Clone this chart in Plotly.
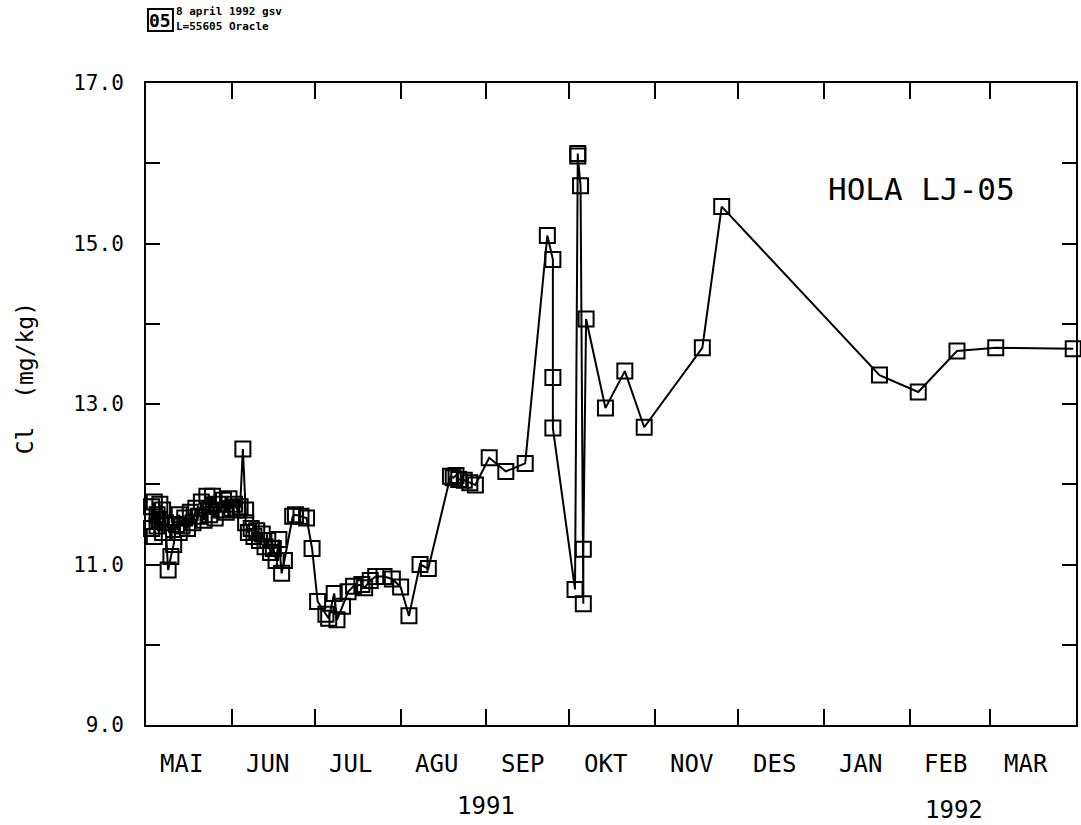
import plotly.graph_objects as go
import pandas as pd

dates = [
    "1991-05-03", "1991-05-03", "1991-05-04", "1991-05-04", "1991-05-05", "1991-05-05",
    "1991-05-06", "1991-05-06", "1991-05-07", "1991-05-07", "1991-05-08", "1991-05-09",
    "1991-05-10", "1991-05-11", "1991-05-12", "1991-05-13", "1991-05-13", "1991-05-14",
    "1991-05-15", "1991-05-16", "1991-05-17", "1991-05-18", "1991-05-19", "1991-05-20",
    "1991-05-21", "1991-05-22", "1991-05-23", "1991-05-24", "1991-05-25", "1991-05-26",
    "1991-05-27", "1991-05-28", "1991-05-29", "1991-05-30", "1991-05-31", "1991-06-01",
    "1991-06-02", "1991-06-03", "1991-06-04", "1991-06-05", "1991-06-06", "1991-06-06",
    "1991-06-07", "1991-06-08", "1991-06-09", "1991-06-10", "1991-06-11", "1991-06-12",
    "1991-06-13", "1991-06-14", "1991-06-15", "1991-06-16", "1991-06-17", "1991-06-18",
    "1991-06-19", "1991-06-20", "1991-06-23", "1991-06-24", "1991-06-26", "1991-06-28",
    "1991-06-30", "1991-07-02", "1991-07-05", "1991-07-06", "1991-07-08", "1991-07-09",
    "1991-07-11", "1991-07-13", "1991-07-15", "1991-07-18", "1991-07-19", "1991-07-21",
    "1991-07-23", "1991-07-26", "1991-07-29", "1991-08-01", "1991-08-04", "1991-08-08",
    "1991-08-11", "1991-08-19", "1991-08-20", "1991-08-21", "1991-08-22", "1991-08-24",
    "1991-08-26", "1991-08-28", "1991-09-02", "1991-09-08", "1991-09-15", "1991-09-23",
    "1991-09-25", "1991-09-25", "1991-09-25", "1991-10-03", "1991-10-04", "1991-10-04",
    "1991-10-05", "1991-10-06", "1991-10-06", "1991-10-07", "1991-10-14", "1991-10-21",
    "1991-10-28", "1991-11-18", "1991-11-25", "1992-01-21", "1992-02-04", "1992-02-18",
    "1992-03-03", "1992-03-31",
]
cl_values = [
    11.72, 11.45, 11.78, 11.35, 11.62, 11.48,
    11.75, 11.55, 11.40, 11.68, 11.52, 10.93,
    11.10, 11.25, 11.50, 11.40, 11.62, 11.48,
    11.58, 11.45, 11.65, 11.52, 11.70, 11.60,
    11.78, 11.55, 11.85, 11.62, 11.85, 11.58,
    11.75, 11.68, 11.80, 11.65, 11.82, 11.70,
    11.75, 11.68, 11.72, 12.44, 11.68, 11.52,
    11.40, 11.45, 11.35, 11.42, 11.30, 11.38,
    11.22, 11.30, 11.15, 11.20, 11.05, 11.31,
    10.89, 11.05, 11.60, 11.62, 11.60, 11.58,
    11.20, 10.54, 10.38, 10.33, 10.64, 10.31,
    10.48, 10.66, 10.73, 10.75, 10.71, 10.80,
    10.85, 10.85, 10.82, 10.72, 10.36, 11.00,
    10.95, 12.10, 12.08, 12.11, 12.06, 12.05,
    12.02, 11.99, 12.33, 12.16, 12.26, 15.10,
    14.80, 13.33, 12.70, 10.69, 16.12, 16.09,
    15.72, 10.51, 11.19, 14.06, 12.95, 13.41,
    12.71, 13.70, 15.46, 13.36, 13.15, 13.66,
    13.70, 13.69,
]

month_names = ["MAI", "JUN", "JUL", "AGU", "SEP", "OKT", "NOV", "DES", "JAN", "FEB", "MAR"]
year_labels = ["1991", "1992"]
y_ticks = [9, 10, 11, 12, 13, 14, 15, 16, 17]
y_ticktext = ["9.0", "", "11.0", "", "13.0", "", "15.0", "", "17.0"]

FONT = "DejaVu Sans Mono"
W, H = 1081, 825
L, R, T, B = 146, 3, 83, 100
PW, PH = W - L - R, H - T - B


def px_x(p):
    return (p - L) / PW


def px_y(p):
    return (H - B - p) / PH


fig = go.Figure()
fig.add_trace(go.Scatter(
    x=pd.to_datetime(dates), y=cl_values, mode="lines+markers",
    line=dict(color="black", width=2),
    marker=dict(symbol="square-open", size=15, color="black", line=dict(width=2)),
    showlegend=False, cliponaxis=False,
))

month_starts = pd.date_range("1991-05-01", periods=11, freq="MS")
tick_dates = list(month_starts[1:])
ann = []
for ms, name in zip(month_starts, month_names):
    ann.append(dict(x=ms + pd.Timedelta(days=13), y=px_y(764), xref="x", yref="paper",
                    text=name, showarrow=False, font=dict(family=FONT, size=24, color="black"),
                    xanchor="center", yanchor="middle"))
ann.append(dict(x=pd.Timestamp("1991-09-01"), y=px_y(806), xref="x", yref="paper",
                text=year_labels[0], showarrow=False, font=dict(family=FONT, size=24, color="black"),
                xanchor="center", yanchor="middle"))
ann.append(dict(x=pd.Timestamp("1992-02-17"), y=px_y(810), xref="x", yref="paper",
                text=year_labels[1], showarrow=False, font=dict(family=FONT, size=24, color="black"),
                xanchor="center", yanchor="middle"))
ann.append(dict(x=px_x(25), y=px_y(378), xref="paper", yref="paper", text="Cl  (mg/kg)",
                textangle=-90, showarrow=False, font=dict(family=FONT, size=23, color="black"),
                xanchor="center", yanchor="middle"))
ann.append(dict(x=px_x(923), y=px_y(189), xref="paper", yref="paper", text="HOLA LJ-05",
                showarrow=False, font=dict(family=FONT, size=31, color="black"),
                xanchor="center", yanchor="middle"))
ann.append(dict(x=px_x(160.5), y=px_y(20.5), xref="paper", yref="paper", text="<b>05</b>",
                showarrow=False, font=dict(family=FONT, size=18, color="black"),
                xanchor="center", yanchor="middle"))
ann.append(dict(x=px_x(175), y=px_y(12), xref="paper", yref="paper", text="<b>8 april 1992 gsv</b>",
                showarrow=False, font=dict(family=FONT, size=11, color="black"),
                xanchor="left", yanchor="middle", borderpad=0))
ann.append(dict(x=px_x(175), y=px_y(26), xref="paper", yref="paper", text="<b>L=55605 Oracle</b>",
                showarrow=False, font=dict(family=FONT, size=11, color="black"),
                xanchor="left", yanchor="middle", borderpad=0))

shapes = [dict(type="rect", xref="paper", yref="paper", x0=px_x(148), x1=px_x(173),
               y0=px_y(31), y1=px_y(9), line=dict(color="black", width=2))]

fig.update_layout(
    width=W, height=H, margin=dict(l=L, r=R, t=T, b=B, pad=0),
    paper_bgcolor="white", plot_bgcolor="white",
    annotations=ann, shapes=shapes,
    xaxis=dict(type="date", range=["1991-05-01", "1992-04-01"], tickvals=tick_dates,
               ticktext=[""] * len(tick_dates), ticks="inside", ticklen=16, tickwidth=2,
               tickcolor="black", showline=True, linecolor="black", linewidth=2,
               mirror="ticks", showgrid=False, zeroline=False),
    yaxis=dict(range=[9, 17], tickvals=y_ticks, ticktext=y_ticktext, ticks="inside",
               ticklen=14, tickwidth=2, tickcolor="black", showline=True, linecolor="black",
               linewidth=2, mirror="ticks", showgrid=False, zeroline=False,
               tickfont=dict(family=FONT, size=21, color="black"), ticklabelstandoff=16),
)

fig.write_html("out.html")
